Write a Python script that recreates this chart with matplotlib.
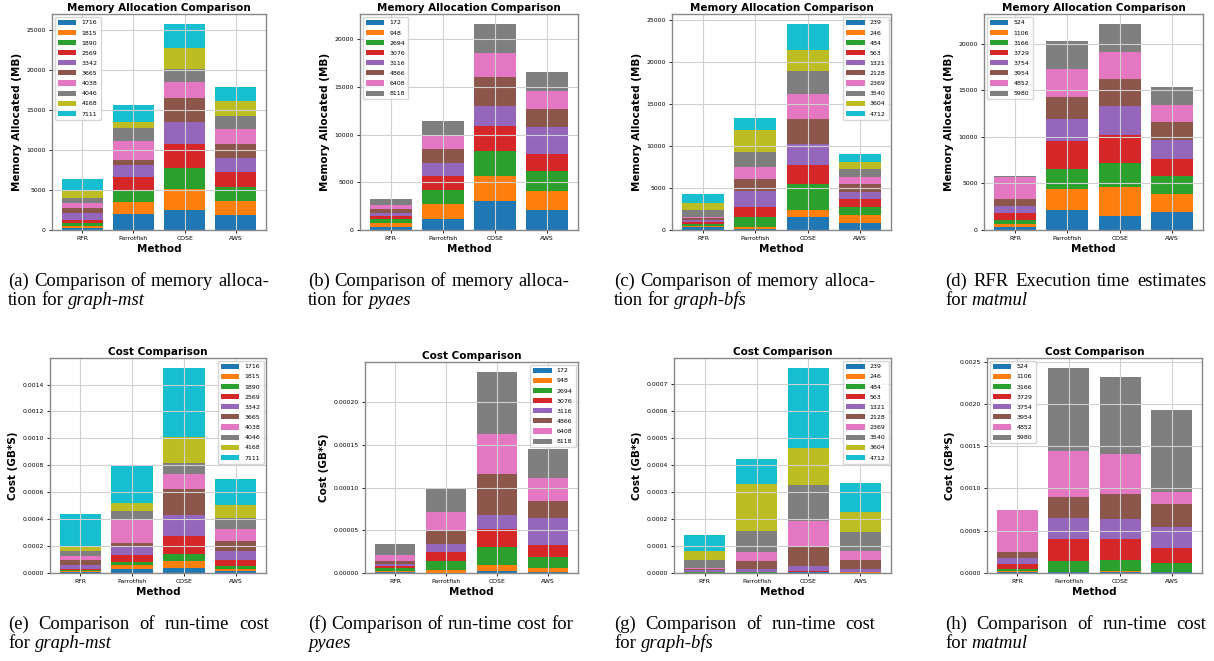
import matplotlib
matplotlib.use('Agg')
import matplotlib.pyplot as plt
import numpy as np

W, H = 1214, 661

methods = ['RFR', 'Parrotfish', 'COSE', 'AWS']
colors = ['#1f77b4', '#ff7f0e', '#2ca02c', '#d62728', '#9467bd',
          '#8c564b', '#e377c2', '#7f7f7f', '#bcbd22', '#17becf']

# memory sizes (legend labels) per function
mst_sizes = ['1716', '1815', '1890', '2569', '3342', '3665', '4038', '4046', '4168', '7111']
pyaes_sizes = ['172', '948', '2694', '3076', '3116', '4866', '6408', '8118']
bfs_sizes = ['239', '246', '484', '563', '1321', '2128', '2369', '3540', '3604', '4712']
matmul_sizes = ['524', '1106', '3166', '3729', '3754', '3954', '4852', '5980']

# memory allocated (MB), one row per method, stacked in legend order
mst_mem = [[300, 200, 330, 420, 830, 670, 625, 665, 860, 1475],
           [2000, 1500, 1460, 1710, 1500, 580, 2375, 1585, 790, 2170],
           [2500, 2625, 2665, 2960, 2790, 2960, 2000, 1670, 2580, 3000],
           [1830, 1795, 1750, 1835, 1790, 1750, 1830, 1750, 1795, 1835]]
pyaes_mem = [[350, 350, 450, 320, 350, 420, 380, 600],
             [1150, 1580, 1470, 1460, 1400, 1470, 1470, 1470],
             [3040, 2620, 2660, 2590, 2090, 3050, 2550, 2970],
             [2100, 1990, 2060, 1820, 2830, 1930, 1890, 1920]]
bfs_mem = [[316, 159, 237, 278, 236, 198, 158, 791, 831, 1029],
           [160, 156, 1184, 1190, 1940, 1420, 1430, 1740, 2650, 1420],
           [1540, 830, 3050, 2290, 2490, 3010, 3010, 2650, 2570, 3010],
           [870, 950, 910, 910, 870, 910, 870, 910, 870, 910]]
matmul_mem = [[320, 320, 430, 720, 780, 790, 2350, 110],
              [2180, 2210, 2150, 3000, 2350, 2400, 3000, 3000],
              [1540, 3030, 2640, 3000, 3040, 3000, 2820, 3000],
              [1960, 1900, 1890, 1890, 2000, 1900, 1890, 1930]]

# run-time cost (GB*s)
mst_cost = [[0.074, 0.10, 0.074, 0.075, 0.30, 0.37, 0.30, 0.32, 0.42, 2.36],
            [0.32, 0.25, 0.22, 0.55, 0.60, 0.29, 1.67, 0.74, 0.55, 2.75],
            [0.40, 0.49, 0.52, 1.32, 1.56, 1.94, 1.11, 0.82, 1.96, 5.09],
            [0.12, 0.20, 0.18, 0.49, 0.67, 0.75, 0.84, 0.84, 0.95, 1.91]]  # x1e-4
pyaes_cost = [[0.08, 0.15, 0.32, 0.23, 0.27, 0.40, 0.62, 1.29],
              [0.04, 0.35, 0.98, 1.05, 1.02, 1.60, 2.11, 2.69],
              [0.23, 0.75, 2.07, 2.15, 1.56, 4.84, 4.65, 7.30],
              [0.12, 0.43, 1.36, 1.33, 3.24, 1.96, 2.65, 3.48]]  # x1e-5
bfs_cost = [[0.01, 0.005, 0.01, 0.03, 0.04, 0.05, 0.03, 0.32, 0.32, 0.59],
            [0.01, 0.005, 0.01, 0.015, 0.10, 0.30, 0.33, 0.77, 1.76, 0.92],
            [0.02, 0.01, 0.02, 0.02, 0.19, 0.73, 0.95, 1.31, 1.38, 2.94],
            [0.01, 0.01, 0.01, 0.02, 0.10, 0.32, 0.34, 0.71, 0.74, 1.07]]  # x1e-4
matmul_cost = [[0.16, 0.08, 0.23, 0.60, 0.67, 0.75, 4.98, 0.04],
               [0.08, 0.04, 1.26, 2.65, 2.49, 2.45, 5.46, 9.80],
               [0.08, 0.12, 1.30, 2.49, 2.45, 2.89, 4.70, 9.17],
               [0.08, 0.08, 0.99, 1.85, 2.49, 2.69, 1.46, 9.69]]  # x1e-4

fig = plt.figure(figsize=(W / 100, H / 100), dpi=100)


def px_axes(l, t, r, b):
    return fig.add_axes([l / W, 1 - b / H, (r - l) / W, (b - t) / H])


def stacked(ax, sizes, data, scale, title, ylabel, loc):
    vals = np.array(data, dtype=float).T * scale
    bottom = np.zeros(len(methods))
    for i, lab in enumerate(sizes):
        ax.bar(methods, vals[i], 0.8, bottom=bottom, color=colors[i], label=lab)
        bottom += vals[i]
    ax.set_title(title, fontsize=7.5, fontweight='bold', pad=2)
    ax.set_ylabel(ylabel, fontsize=7.5, fontweight='bold', labelpad=3)
    ax.set_xlabel('Method', fontsize=7.5, fontweight='bold', labelpad=2)
    ax.tick_params(labelsize=4.4, length=2.5, width=0.6, pad=2)
    ax.grid(True, color='#d0d0d0', linewidth=0.8)
    for s in ax.spines.values():
        s.set_color('#888888')
        s.set_linewidth(1.0)
    ax.legend(loc=loc, fontsize=4.5, handlelength=3.0, handleheight=0.9,
              labelspacing=0.7, borderpad=0.5, borderaxespad=0.4)


panels = [
    ((52, 14, 266, 230), mst_sizes, mst_mem, 1, 'Memory Allocation Comparison', 'Memory Allocated (MB)', 'upper left'),
    ((360, 14, 578, 230), pyaes_sizes, pyaes_mem, 1, 'Memory Allocation Comparison', 'Memory Allocated (MB)', 'upper left'),
    ((672, 14, 891, 230), bfs_sizes, bfs_mem, 1, 'Memory Allocation Comparison', 'Memory Allocated (MB)', 'upper right'),
    ((984, 14, 1203, 230), matmul_sizes, matmul_mem, 1, 'Memory Allocation Comparison', 'Memory Allocated (MB)', 'upper left'),
    ((50, 358, 266, 573), mst_sizes, mst_cost, 1e-4, 'Cost Comparison', 'Cost (GB*S)', 'upper right'),
    ((365, 362, 578, 573), pyaes_sizes, pyaes_cost, 1e-5, 'Cost Comparison', 'Cost (GB*S)', 'upper right'),
    ((674, 358, 891, 573), bfs_sizes, bfs_cost, 1e-4, 'Cost Comparison', 'Cost (GB*S)', 'upper right'),
    ((987, 358, 1202, 573), matmul_sizes, matmul_cost, 1e-4, 'Cost Comparison', 'Cost (GB*S)', 'upper left'),
]
for box, sizes, data, scale, title, ylabel, loc in panels:
    ax = px_axes(*box)
    stacked(ax, sizes, data, scale, title, ylabel, loc)

# sub-captions, first line justified like the paper
cap_fs = 13.4
serif = 'Liberation Serif'
renderer = fig.canvas.get_renderer()


def text_w(s, italic=False):
    t = fig.text(0, 0, s, fontsize=cap_fs, family=serif, style='italic' if italic else 'normal')
    w = t.get_window_extent(renderer).width
    t.remove()
    return w


space_w = text_w('a a') - text_w('aa')


def caption(x0, y0, lines, width=261, lh=18.5):
    for i, words in enumerate(lines):
        y = y0 + i * lh
        objs = []
        for w in words:
            it = isinstance(w, tuple)
            s = w[0] if it else w
            objs.append(fig.text(0, 1 - y / H, s, fontsize=cap_fs, family=serif,
                                 style='italic' if it else 'normal', va='baseline'))
        ws = [o.get_window_extent(renderer).width for o in objs]
        if i == 0 and len(lines) > 1 and len(ws) > 1:
            gap = max((width - sum(ws)) / (len(ws) - 1), space_w)
        else:
            gap = space_w
        x = x0
        for o, w in zip(objs, ws):
            o.set_x(x / W)
            x += w + gap


caption(8, 286, [['(a)', 'Comparison', 'of', 'memory', 'alloca-'], ['tion', 'for', ('graph-mst',)]])
caption(308, 286, [['(b)', 'Comparison', 'of', 'memory', 'alloca-'], ['tion', 'for', ('pyaes',)]])
caption(614, 286, [['(c)', 'Comparison', 'of', 'memory', 'alloca-'], ['tion', 'for', ('graph-bfs',)]])
caption(945, 286, [['(d)', 'RFR', 'Execution', 'time', 'estimates'], ['for', ('matmul',)]])
caption(8, 629, [['(e)', 'Comparison', 'of', 'run-time', 'cost'], ['for', ('graph-mst',)]])
caption(308, 629, [['(f)', 'Comparison', 'of', 'run-time', 'cost', 'for'], [('pyaes',)]])
caption(614, 629, [['(g)', 'Comparison', 'of', 'run-time', 'cost'], ['for', ('graph-bfs',)]])
caption(945, 629, [['(h)', 'Comparison', 'of', 'run-time', 'cost'], ['for', ('matmul',)]])

fig.savefig('out.png', dpi=100)
